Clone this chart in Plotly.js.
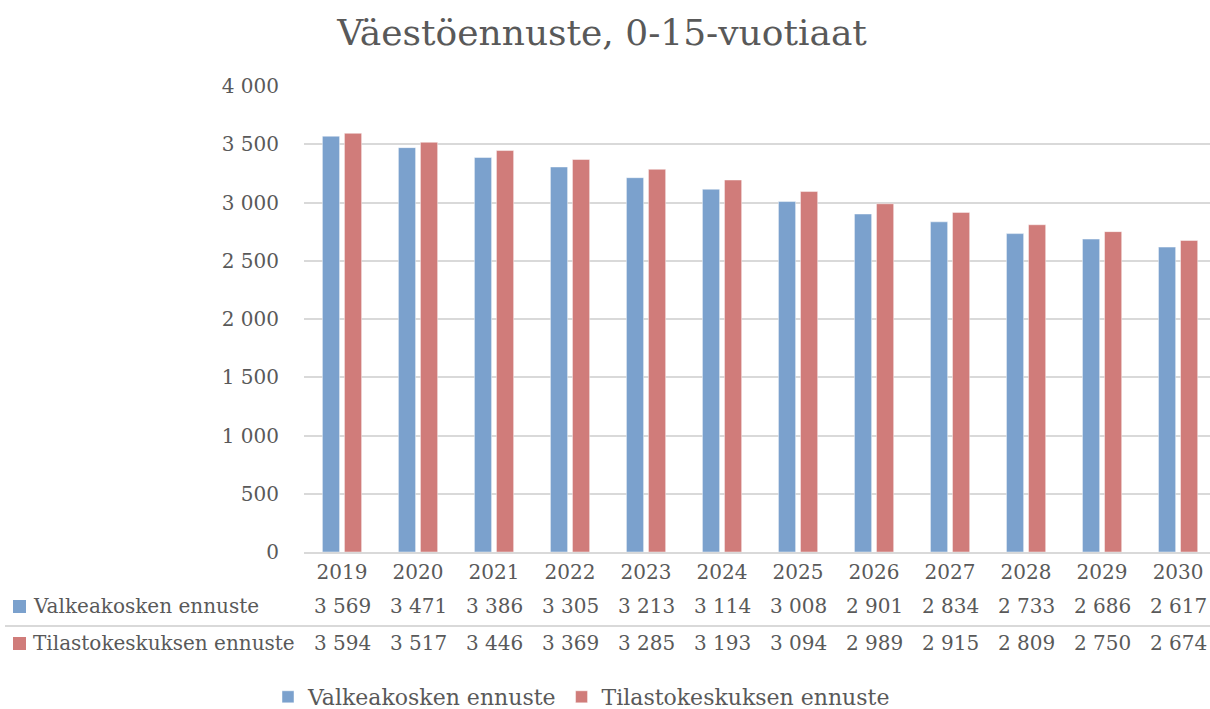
<!DOCTYPE html>
<html>
<head>
<meta charset="utf-8">
<script src="https://cdn.plot.ly/plotly-3.0.1.min.js"></script>
<style>html,body{margin:0;padding:0;background:#fff;}#chart{width:1210px;height:709px;}</style>
</head>
<body>
<div id="chart"></div>
<script>
const years = ['2019','2020','2021','2022','2023','2024','2025','2026','2027','2028','2029','2030'];
const seriesNames = ['Valkeakosken ennuste', 'Tilastokeskuksen ennuste'];
const valkeakoski = [3569, 3471, 3386, 3305, 3213, 3114, 3008, 2901, 2834, 2733, 2686, 2617];
const tilastokeskus = [3594, 3517, 3446, 3369, 3285, 3193, 3094, 2989, 2915, 2809, 2750, 2674];
const yTicks = [0, 500, 1000, 1500, 2000, 2500, 3000, 3500, 4000];
const colors = ['#7BA1CD', '#D07C7A'];

const FONT = 'DejaVu Serif';
const TXT = '#595959';
const W = 1210, H = 709;
const L = 304, T = 86, B = 157;
const plotW = W - L, plotH = H - T - B;
const px2x = p => (p - L) / plotW;
const py2y = p => (H - B - p) / plotH;

function fmt(v) {
  return String(v).replace(/\B(?=(\d{3})+(?!\d))/g, ' ');
}

const traces = [
  {type: 'bar', name: seriesNames[0], x: years, y: valkeakoski,
   marker: {color: colors[0], line: {color: 'rgba(255,255,255,0.45)', width: 1}}},
  {type: 'bar', name: seriesNames[1], x: years, y: tilastokeskus,
   marker: {color: colors[1], line: {color: 'rgba(255,255,255,0.45)', width: 1}}}
];

const annotations = [];
const rows = [valkeakoski, tilastokeskus];
const rowY = [606, 643];
rows.forEach((row, r) => {
  row.forEach((v, i) => {
    annotations.push({x: i, xref: 'x', y: py2y(rowY[r]), yref: 'paper',
      text: fmt(v), showarrow: false, xanchor: 'center', yanchor: 'middle',
      font: {family: FONT, size: 20, color: TXT}});
  });
  annotations.push({x: px2x(31), xref: 'paper', y: py2y(rowY[r]), yref: 'paper',
    text: seriesNames[r], showarrow: false, xanchor: 'left', yanchor: 'middle',
    font: {family: FONT, size: 20, color: TXT}});
});

const shapes = [
  {type: 'line', xref: 'paper', yref: 'paper', x0: px2x(5), x1: 1, y0: py2y(626), y1: py2y(626),
   line: {color: '#D9D9D9', width: 2}},
  {type: 'rect', xref: 'paper', yref: 'paper', x0: px2x(13), x1: px2x(26), y0: py2y(600), y1: py2y(613),
   fillcolor: colors[0], line: {width: 0}},
  {type: 'rect', xref: 'paper', yref: 'paper', x0: px2x(13), x1: px2x(26), y0: py2y(637), y1: py2y(650),
   fillcolor: colors[1], line: {width: 0}}
];

const layout = {
  width: W, height: H,
  margin: {l: L, r: 0, t: T, b: B, autoexpand: false},
  paper_bgcolor: '#fff', plot_bgcolor: '#fff',
  separators: ', ',
  title: {text: 'Väestöennuste, 0-15-vuotiaat', x: 602 / W, xref: 'container', xanchor: 'center',
          y: 1 - 32 / H, yref: 'container', yanchor: 'middle',
          font: {family: FONT, size: 36, color: TXT}},
  barmode: 'group', bargap: 0.42, bargroupgap: 0.22,
  xaxis: {type: 'category', range: [-0.5, 11.42], showgrid: false, showline: true,
          linecolor: '#D9D9D9', linewidth: 2, ticks: '', ticklabelstandoff: 1,
          tickfont: {family: FONT, size: 20, color: TXT}, fixedrange: true},
  yaxis: {range: [0, 4000], tickvals: yTicks, ticktext: yTicks.map(fmt), showgrid: true,
          gridcolor: '#D9D9D9', gridwidth: 2, zeroline: false, showline: false, ticks: '',
          ticklabelstandoff: 24, tickfont: {family: FONT, size: 20, color: TXT}, fixedrange: true},
  showlegend: true,
  legend: {orientation: 'h', x: px2x(268), xanchor: 'left', y: py2y(697), yanchor: 'middle',
           font: {family: FONT, size: 22, color: TXT}, itemclick: false, itemdoubleclick: false,
           traceorder: 'normal'},
  annotations: annotations,
  shapes: shapes
};

Plotly.newPlot('chart', traces, layout, {displayModeBar: false, staticPlot: true});
</script>
</body>
</html>
